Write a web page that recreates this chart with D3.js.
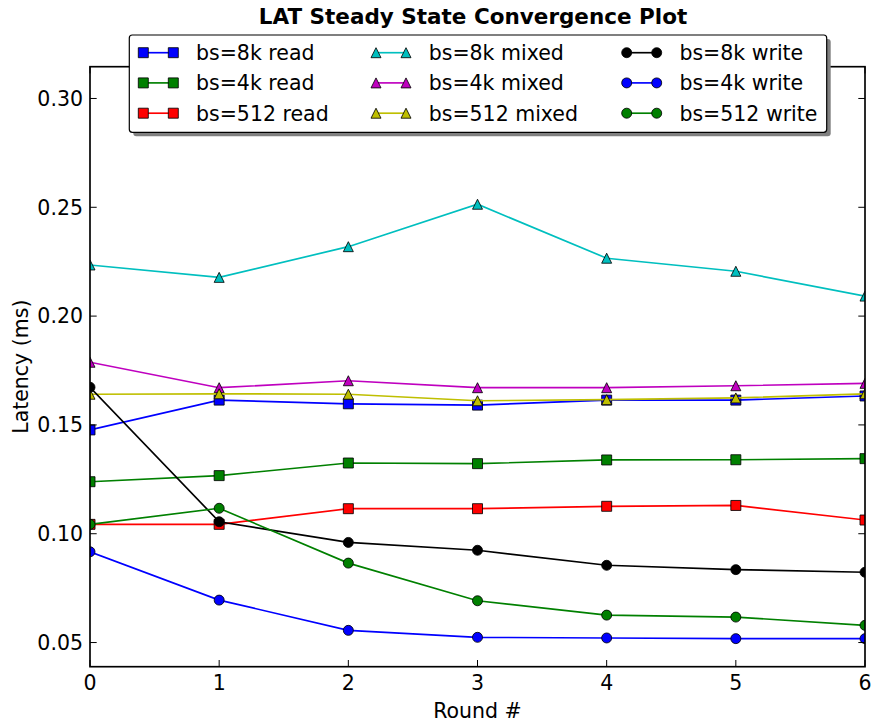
<!DOCTYPE html>
<html>
<head>
<meta charset="utf-8">
<script src="https://cdn.jsdelivr.net/npm/d3@7"></script>
<style>
  body { margin: 0; background: #fff; }
  text { font-family: "DejaVu Sans", sans-serif; fill: #000; }
</style>
</head>
<body>
<div id="chart"></div>
<script>
const rounds = [0, 1, 2, 3, 4, 5, 6];
const seriesNames = [
  "bs=8k read", "bs=4k read", "bs=512 read",
  "bs=8k mixed", "bs=4k mixed", "bs=512 mixed",
  "bs=8k write", "bs=4k write", "bs=512 write"
];
const read8k   = [0.1477, 0.1614, 0.1597, 0.1591, 0.1614, 0.1614, 0.1633];
const read4k   = [0.1239, 0.1267, 0.1325, 0.1322, 0.1339, 0.1340, 0.1345];
const read512  = [0.1043, 0.1043, 0.1115, 0.1115, 0.1126, 0.1130, 0.1063];
const mixed8k  = [0.2235, 0.2178, 0.2319, 0.2514, 0.2266, 0.2206, 0.2092];
const mixed4k  = [0.1788, 0.1671, 0.1703, 0.1671, 0.1671, 0.1680, 0.1691];
const mixed512 = [0.1641, 0.1643, 0.1641, 0.1611, 0.1616, 0.1624, 0.1643];
const write8k  = [0.1673, 0.1055, 0.0960, 0.0924, 0.0855, 0.0835, 0.0823];
const write4k  = [0.0917, 0.0695, 0.0556, 0.0524, 0.0521, 0.0518, 0.0518];
const write512 = [0.1043, 0.1117, 0.0865, 0.0692, 0.0626, 0.0617, 0.0579];
const seriesValues = [read8k, read4k, read512, mixed8k, mixed4k, mixed512, write8k, write4k, write512];
const yTicks = [0.05, 0.10, 0.15, 0.20, 0.25, 0.30];

// styles (matplotlib classic colours)
const colors = ["#0000ff", "#008000", "#ff0000", "#00bfbf", "#bf00bf", "#bfbf00", "#000000", "#0000ff", "#008000"];
const shapes = ["square", "square", "square", "triangle", "triangle", "triangle", "circle", "circle", "circle"];

const W = 873, H = 727;
const margin = { top: 66.7, right: 8, bottom: 60.3, left: 90 };
const innerW = W - margin.left - margin.right;
const innerH = H - margin.top - margin.bottom;
const FS = 20.5;

const x = d3.scaleLinear().domain([0, 6]).range([margin.left, margin.left + innerW]);
const y = d3.scaleLinear().domain([0.0389, 0.3146]).range([margin.top + innerH, margin.top]);

// triangle like matplotlib '^': bounding box centred on the point
const triangleUp = {
  draw(ctx, size) {
    const r = Math.sqrt(size) / 2;
    ctx.moveTo(0, -r);
    ctx.lineTo(r, r);
    ctx.lineTo(-r, r);
    ctx.closePath();
  }
};
const symbolFor = (s) => {
  if (s === "square") return d3.symbol().type(d3.symbolSquare).size(100);
  if (s === "circle") return d3.symbol().type(d3.symbolCircle).size(Math.PI * 25);
  return d3.symbol().type(triangleUp).size(100);
};

const svg = d3.select("#chart")
  .append("svg")
  .attr("width", W)
  .attr("height", H)
  .style("display", "block");

svg.append("defs").append("clipPath")
  .attr("id", "plot-clip")
  .append("rect")
  .attr("x", margin.left).attr("y", margin.top)
  .attr("width", innerW).attr("height", innerH);

// Title
svg.append("text")
  .attr("x", 473)
  .attr("y", 23.5)
  .attr("text-anchor", "middle")
  .attr("font-size", 21.5)
  .attr("font-weight", "bold")
  .text("LAT Steady State Convergence Plot");

// Series
const plot = svg.append("g").attr("clip-path", "url(#plot-clip)");
const line = d3.line().x((d, i) => x(rounds[i])).y(d => y(d));

seriesValues.forEach((vals, si) => {
  plot.append("path")
    .datum(vals)
    .attr("d", line)
    .attr("fill", "none")
    .attr("stroke", colors[si])
    .attr("stroke-width", 1.67);

  plot.selectAll(null)
    .data(vals)
    .enter()
    .append("path")
    .attr("transform", (d, i) => `translate(${x(rounds[i])},${y(d)})`)
    .attr("d", symbolFor(shapes[si]))
    .attr("fill", colors[si])
    .attr("stroke", "#000")
    .attr("stroke-width", 0.83);
});

// Frame
svg.append("rect")
  .attr("x", margin.left).attr("y", margin.top)
  .attr("width", innerW).attr("height", innerH)
  .attr("fill", "none")
  .attr("stroke", "#000")
  .attr("stroke-width", 1.67);

// Ticks (inward, on all four sides)
const TICK = 6.7;
const ticks = svg.append("g").attr("stroke", "#000").attr("stroke-width", 1);
rounds.forEach(r => {
  ticks.append("line")
    .attr("x1", x(r)).attr("x2", x(r))
    .attr("y1", margin.top + innerH).attr("y2", margin.top + innerH - TICK);
  ticks.append("line")
    .attr("x1", x(r)).attr("x2", x(r))
    .attr("y1", margin.top).attr("y2", margin.top + TICK);
  svg.append("text")
    .attr("x", x(r))
    .attr("y", 690)
    .attr("text-anchor", "middle")
    .attr("font-size", FS)
    .text(r);
});
yTicks.forEach(t => {
  ticks.append("line")
    .attr("x1", margin.left).attr("x2", margin.left + TICK)
    .attr("y1", y(t)).attr("y2", y(t));
  ticks.append("line")
    .attr("x1", margin.left + innerW).attr("x2", margin.left + innerW - TICK)
    .attr("y1", y(t)).attr("y2", y(t));
  svg.append("text")
    .attr("x", margin.left - 7)
    .attr("y", y(t))
    .attr("dy", "0.36em")
    .attr("text-anchor", "end")
    .attr("font-size", FS)
    .text(d3.format(".2f")(t));
});

// Axis labels
svg.append("text")
  .attr("x", margin.left + innerW / 2)
  .attr("y", 718)
  .attr("text-anchor", "middle")
  .attr("font-size", FS)
  .text("Round #");

svg.append("text")
  .attr("transform", `translate(28,${margin.top + innerH / 2}) rotate(-90)`)
  .attr("text-anchor", "middle")
  .attr("font-size", FS)
  .text("Latency (ms)");

// Legend
const LEG = { x: 129.3, y: 35, w: 697.4, h: 97.3 };
const legend = svg.append("g");
legend.append("rect")
  .attr("x", LEG.x + 4).attr("y", LEG.y + 4)
  .attr("width", LEG.w).attr("height", LEG.h)
  .attr("rx", 3)
  .attr("fill", "#808080");
legend.append("rect")
  .attr("x", LEG.x).attr("y", LEG.y)
  .attr("width", LEG.w).attr("height", LEG.h)
  .attr("rx", 3)
  .attr("fill", "#fff")
  .attr("stroke", "#000")
  .attr("stroke-width", 1.2);

const colX = [143.3, 376, 626.7];
const rowY = [52.7, 82.9, 113.2];
seriesNames.forEach((name, si) => {
  const c = Math.floor(si / 3), r = si % 3;
  const x0 = colX[c], x1 = colX[c] + 30, yy = rowY[r];
  legend.append("line")
    .attr("x1", x0).attr("x2", x1)
    .attr("y1", yy).attr("y2", yy)
    .attr("stroke", colors[si])
    .attr("stroke-width", 1.67);
  [x0, x1].forEach(px => {
    legend.append("path")
      .attr("transform", `translate(${px},${yy})`)
      .attr("d", symbolFor(shapes[si]))
      .attr("fill", colors[si])
      .attr("stroke", "#000")
      .attr("stroke-width", 0.83);
  });
  legend.append("text")
    .attr("x", x1 + 22.7)
    .attr("y", yy)
    .attr("dy", "0.36em")
    .attr("font-size", FS)
    .text(name);
});
</script>
</body>
</html>
